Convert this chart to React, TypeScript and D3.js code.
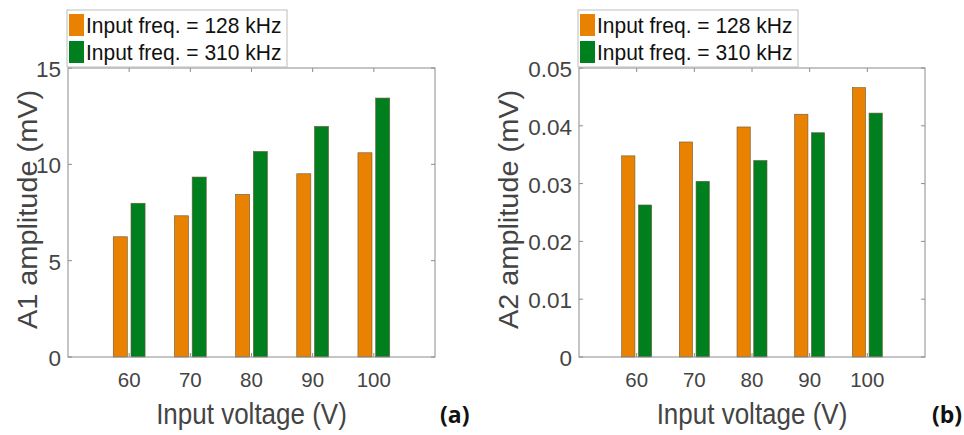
import React from "react";
import * as d3 from "d3";

const categories = [60, 70, 80, 90, 100];
const seriesNames = ["Input freq. = 128 kHz", "Input freq. = 310 kHz"];
const a1_128 = [6.24, 7.33, 8.44, 9.51, 10.6];
const a1_310 = [7.98, 9.34, 10.67, 11.97, 13.44];
const a2_128 = [0.0348, 0.0372, 0.0398, 0.042, 0.0466];
const a2_310 = [0.0263, 0.0304, 0.034, 0.0388, 0.0422];
const a1Ticks = [0, 5, 10, 15];
const a2Ticks = [0, 0.01, 0.02, 0.03, 0.04, 0.05];
const colors = ["#E88200", "#007F1F"];

const FONT = "Arial, 'Liberation Sans', sans-serif";
const AXIS = "#8c8c8c";
const TXT = "#444444";

type PanelProps = {
  left: number;
  right: number;
  top: number;
  bottom: number;
  yMax: number;
  ticks: number[];
  s1: number[];
  s2: number[];
  yLabel: string;
  yLabelOff: number;
  tag: string;
  tagX: number;
  fmt: (v: number) => string;
};

function Panel(p: PanelProps) {
  const x = d3.scaleLinear().domain([50, 110]).range([p.left, p.right]);
  const y = d3.scaleLinear().domain([0, p.yMax]).range([p.bottom, p.top]);
  const off = 1.45;
  const bw = 2.3;
  const series = [p.s1, p.s2];
  const tl = 4;
  const legW = 220;
  return (
    <g>
      {series.map((s, si) =>
        s.map((v, i) => {
          const cx = categories[i] + (si === 0 ? -off : off);
          const x0 = x(cx - bw / 2);
          const x1 = x(cx + bw / 2);
          return (
            <rect
              key={`${si}-${i}`}
              x={x0}
              y={y(v)}
              width={x1 - x0}
              height={y(0) - y(v)}
              fill={colors[si]}
              stroke="#6b5a3a"
              strokeWidth={0.6}
            />
          );
        })
      )}
      <rect
        x={p.left}
        y={p.top}
        width={p.right - p.left}
        height={p.bottom - p.top}
        fill="none"
        stroke={AXIS}
        strokeWidth={1}
      />
      {categories.map((c) => (
        <g key={`xt${c}`}>
          <line x1={x(c)} x2={x(c)} y1={p.bottom} y2={p.bottom - tl} stroke={AXIS} />
          <line x1={x(c)} x2={x(c)} y1={p.top} y2={p.top + tl} stroke={AXIS} />
          <text
            x={x(c)}
            y={p.bottom + 30}
            textAnchor="middle"
            fontFamily={FONT}
            fontSize={20.5}
            fill={TXT}
          >
            {c}
          </text>
        </g>
      ))}
      {p.ticks.map((t) => (
        <g key={`yt${t}`}>
          <line x1={p.left} x2={p.left + tl} y1={y(t)} y2={y(t)} stroke={AXIS} />
          <line x1={p.right} x2={p.right - tl} y1={y(t)} y2={y(t)} stroke={AXIS} />
          <text
            x={p.left - 7}
            y={y(t) + 9}
            textAnchor="end"
            fontFamily={FONT}
            fontSize={22.5}
            fill={TXT}
          >
            {p.fmt(t)}
          </text>
        </g>
      ))}
      <text
        transform={`translate(${(p.left + p.right) / 2},${p.bottom + 67}) scale(1,1.12)`}
        textAnchor="middle"
        fontFamily={FONT}
        fontSize={26}
        fill={TXT}
      >
        Input voltage (V)
      </text>
      <text
        transform={`translate(${p.left - p.yLabelOff},${(p.top + p.bottom) / 2 - 3}) rotate(-90) scale(1.07,1)`}
        textAnchor="middle"
        fontFamily={FONT}
        fontSize={27}
        fill={TXT}
      >
        {p.yLabel}
      </text>
      <text
        x={p.tagX}
        y={p.bottom + 66}
        fontFamily="'Open Sans', 'DejaVu Sans', sans-serif"
        fontWeight="bold"
        fontSize={23}
        fill="#111"
      >
        {p.tag}
      </text>
      <g>
        <rect x={p.left - 1} y={10} width={legW} height={57} fill="#fff" stroke="#bdbdbd" />
        {seriesNames.map((n, i) => (
          <g key={n}>
            <rect
              x={p.left + 1}
              y={14 + i * 27}
              width={15}
              height={22}
              fill={colors[i]}
            />
            <text
              transform={`translate(${p.left + 18},${33 + i * 27}) scale(1,1.04)`}
              fontFamily={FONT}
              fontSize={21}
              fill="#111"
            >
              {n}
            </text>
          </g>
        ))}
      </g>
    </g>
  );
}

export default function App() {
  return (
    <svg
      width={964}
      height={435}
      style={{ position: "absolute", left: 0, top: 0, background: "#fff" }}
    >
      <Panel
        left={68}
        right={435}
        top={68}
        bottom={357}
        yMax={15}
        ticks={a1Ticks}
        s1={a1_128}
        s2={a1_310}
        yLabel="A1 amplitude (mV)"
        yLabelOff={31}
        tag="(a)"
        tagX={440}
        fmt={(v) => String(v)}
      />
      <Panel
        left={579}
        right={925}
        top={68}
        bottom={357}
        yMax={0.05}
        ticks={a2Ticks}
        s1={a2_128}
        s2={a2_310}
        yLabel="A2 amplitude (mV)"
        yLabelOff={61}
        tag="(b)"
        tagX={932}
        fmt={(v) => (v === 0 ? "0" : d3.format(".2f")(v))}
      />
    </svg>
  );
}
